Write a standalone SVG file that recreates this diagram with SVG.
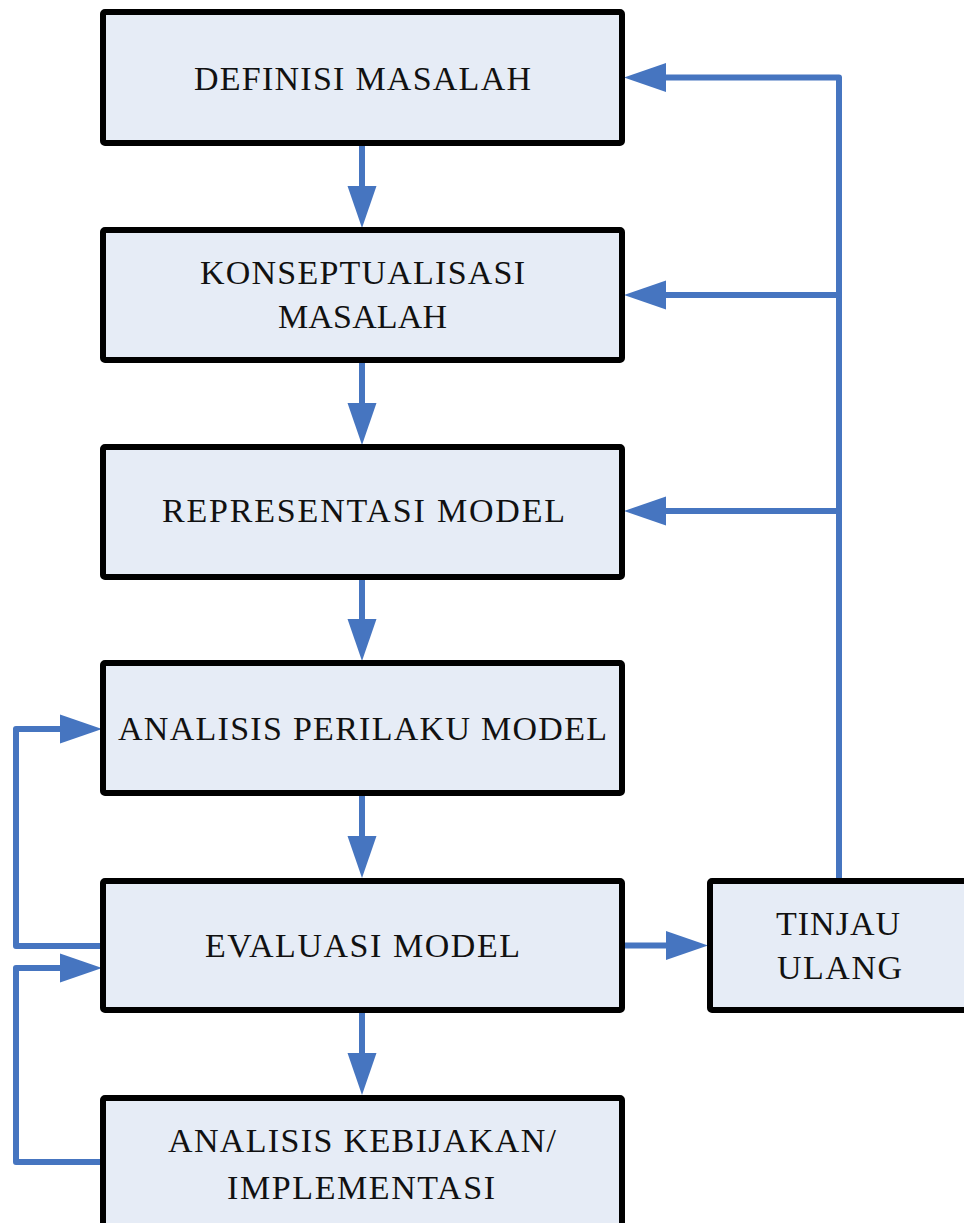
<svg xmlns="http://www.w3.org/2000/svg" width="964" height="1223" viewBox="0 0 964 1223">
  <style>
    .box { fill: #E6ECF6; stroke: #000000; stroke-width: 6; }
    .lbl { font-family: "Liberation Serif", "Times New Roman", serif; font-size: 34px; fill: #111111; text-anchor: middle; }
    .conn { fill: none; stroke: #4675C0; stroke-width: 6; stroke-linecap: round; stroke-linejoin: round; }
  </style>
  <defs>
    <marker id="ah" markerUnits="userSpaceOnUse" markerWidth="44" markerHeight="30" refX="0" refY="0" orient="auto" overflow="visible">
      <path d="M0,-14.5 L42,0 L0,14.5 Z" fill="#4675C0"/>
    </marker>
  </defs>
  <rect width="964" height="1223" fill="#FFFFFF"/>

  <g id="connectors">
    <path class="conn" d="M362,143 L362,186" marker-end="url(#ah)"/>
    <path class="conn" d="M362,360 L362,403" marker-end="url(#ah)"/>
    <path class="conn" d="M362,577 L362,619" marker-end="url(#ah)"/>
    <path class="conn" d="M362,793 L362,836" marker-end="url(#ah)"/>
    <path class="conn" d="M362,1010 L362,1053" marker-end="url(#ah)"/>
    <path class="conn" d="M622,945.5 L666,945.5" marker-end="url(#ah)"/>
    <path class="conn" d="M839,880 L839,77.5 L666,77.5" marker-end="url(#ah)"/>
    <path class="conn" d="M839,295 L666,295" marker-end="url(#ah)"/>
    <path class="conn" d="M839,511 L666,511" marker-end="url(#ah)"/>
    <path class="conn" d="M104,946 L16,946 L16,729 L60,729" marker-end="url(#ah)"/>
    <path class="conn" d="M104,1162 L16,1162 L16,968 L60,968" marker-end="url(#ah)"/>
  </g>

  <g id="node-definisi">
    <rect class="box" x="103" y="12" width="519" height="131" rx="2"/>
    <text class="lbl" x="362.5" y="90" textLength="337" lengthAdjust="spacing">DEFINISI MASALAH</text>
  </g>
  <g id="node-konseptualisasi">
    <rect class="box" x="103" y="230" width="519" height="130" rx="2"/>
    <text class="lbl" x="362.5" y="284" textLength="325" lengthAdjust="spacing">KONSEPTUALISASI</text>
    <text class="lbl" x="362.5" y="328" textLength="169" lengthAdjust="spacing">MASALAH</text>
  </g>
  <g id="node-representasi">
    <rect class="box" x="103" y="447" width="519" height="130" rx="2"/>
    <text class="lbl" x="363.5" y="522" textLength="403" lengthAdjust="spacing">REPRESENTASI MODEL</text>
  </g>
  <g id="node-analisis-perilaku">
    <rect class="box" x="103" y="663" width="519" height="130" rx="2"/>
    <text class="lbl" x="362.5" y="740" textLength="489" lengthAdjust="spacing">ANALISIS PERILAKU MODEL</text>
  </g>
  <g id="node-evaluasi">
    <rect class="box" x="103" y="881" width="519" height="129" rx="2"/>
    <text class="lbl" x="362.5" y="957" textLength="315" lengthAdjust="spacing">EVALUASI MODEL</text>
  </g>
  <g id="node-kebijakan">
    <rect class="box" x="103" y="1098" width="519" height="140" rx="2"/>
    <text class="lbl" x="362" y="1152" textLength="388" lengthAdjust="spacing">ANALISIS KEBIJAKAN/</text>
    <text class="lbl" x="361" y="1199" textLength="268" lengthAdjust="spacing">IMPLEMENTASI</text>
  </g>
  <g id="node-tinjau">
    <rect class="box" x="710" y="881" width="300" height="129" rx="2"/>
    <text class="lbl" x="838" y="935" textLength="124" lengthAdjust="spacing">TINJAU</text>
    <text class="lbl" x="839.5" y="979" textLength="125" lengthAdjust="spacing">ULANG</text>
  </g>
</svg>
